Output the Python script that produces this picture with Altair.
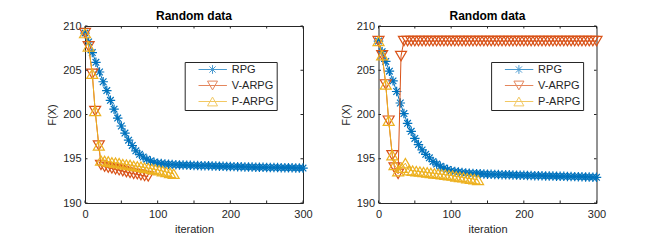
import altair as alt
import pandas as pd

series_names = ["RPG", "V-ARPG", "P-ARPG"]
series_colors = ["#0072BD", "#D95319", "#EDB120"]
x_ticks = [0, 50, 100, 150, 200, 250, 300]
y_ticks = [190, 195, 200, 205, 210]
panel_title = "Random data"

# ---------------- left panel ----------------
left_rpg_x = list(range(0, 301, 5))
left_rpg_y = [209.2, 208.2, 207.0, 205.9, 204.8, 203.7, 202.7, 201.6, 200.6, 199.6,
              198.7, 197.9, 197.1, 196.5, 195.9, 195.5, 195.2, 194.95, 194.75, 194.6,
              194.5, 194.45, 194.4, 194.37, 194.35, 194.33, 194.3, 194.29, 194.28, 194.26,
              194.25, 194.24, 194.22, 194.21, 194.2, 194.18, 194.17, 194.16, 194.14, 194.13,
              194.12, 194.11, 194.1, 194.09, 194.08, 194.07, 194.06, 194.05, 194.04, 194.03,
              194.02, 194.01, 194.0, 194.0, 193.99, 193.98, 193.97, 193.97, 193.96, 193.96,
              193.95]
left_v_x = [0, 5, 10, 14, 19, 22, 27, 32, 37, 42, 47, 52, 57, 62, 67, 72, 77, 82, 87]
left_v_y = [209.2, 207.7, 204.6, 200.4, 196.5, 194.3, 194.1, 194.0, 193.9, 193.8,
            193.7, 193.6, 193.5, 193.4, 193.3, 193.25, 193.15, 193.05, 193.0]
left_p_x = [0, 5, 10, 14, 19, 22, 27, 32, 37, 42, 47, 52, 57, 62, 67, 72, 77, 82, 87,
            92, 97, 102, 107, 112, 117, 122]
left_p_y = [209.2, 207.7, 204.6, 200.4, 196.5, 194.8, 194.75, 194.7, 194.6, 194.55,
            194.5, 194.4, 194.35, 194.3, 194.2, 194.15, 194.1, 194.0, 193.95, 193.85,
            193.8, 193.7, 193.6, 193.5, 193.4, 193.3]

# ---------------- right panel ----------------
right_rpg_x = list(range(0, 301, 5))
right_rpg_y = [208.3, 207.1, 206.0, 204.9, 203.8, 202.6, 201.3, 200.1, 199.0, 198.1,
               197.3, 196.6, 196.0, 195.5, 195.1, 194.7, 194.4, 194.15, 193.95, 193.8,
               193.65, 193.55, 193.5, 193.45, 193.4, 193.37, 193.34, 193.32, 193.3, 193.28,
               193.26, 193.25, 193.23, 193.22, 193.2, 193.19, 193.18, 193.16, 193.15, 193.14,
               193.13, 193.12, 193.1, 193.09, 193.08, 193.07, 193.06, 193.05, 193.04, 193.03,
               193.02, 193.01, 193.0, 192.99, 192.98, 192.97, 192.96, 192.95, 192.94, 192.92,
               192.9]
right_v_x = [0, 5, 10, 14, 19, 22, 27, 31] + list(range(35, 301, 5))
right_v_y = [208.3, 206.7, 203.4, 199.3, 195.4, 194.0, 193.3, 206.6] + [208.3] * 54
right_p_x = [0, 5, 10, 14, 19, 22, 27, 32, 37, 42, 47, 52, 57, 62, 67, 72, 77, 82, 87,
             92, 97, 102, 107, 112, 117, 122, 127, 132, 137]
right_p_y = [208.3, 206.7, 203.4, 199.3, 195.4, 194.3, 193.6, 194.0, 194.5, 193.7,
             193.65, 193.6, 193.55, 193.5, 193.45, 193.4, 193.35, 193.3, 193.25, 193.2,
             193.15, 193.1, 193.0, 192.95, 192.9, 192.8, 192.75, 192.7, 192.6]

W, H = 218, 177
AX = "#262626"
FONT = "Liberation Sans"

marker_paths = {
    "RPG": "M0,-1L0,1M-1,0L1,0M-0.7,-0.7L0.7,0.7M-0.7,0.7L0.7,-0.7",
    "V-ARPG": "M-1,-0.85L1,-0.85L0,0.85Z",
    "P-ARPG": "M-1,0.85L1,0.85L0,-0.85Z",
}
marker_sizes = {"RPG": 90, "V-ARPG": 121, "P-ARPG": 121}
legend_paths = [
    "M1.58,0L8.68,0M5.08,-1.1L5.08,1.1M3.98,0L6.18,0M4.3,-0.78L5.86,0.78M4.3,0.78L5.86,-0.78",
    "M1.58,0L8.68,0M3.83,-1.1L6.33,-1.1L5.08,1.1Z",
    "M1.58,0L8.68,0M3.83,1.1L6.33,1.1L5.08,-1.1Z",
]


def make_df(parts):
    rows = []
    for name, xs, ys in parts:
        for xv, yv in zip(xs, ys):
            rows.append({"series": name, "iter": xv, "F": yv})
    return pd.DataFrame(rows)


def legend_params(lx, ly):
    return alt.Legend(title=None, orient="none", legendX=lx, legendY=ly, padding=2,
                      rowPadding=3, labelOffset=34, symbolSize=64, symbolStrokeWidth=1,
                      labelFontSize=11, labelFont=FONT, labelColor=AX,
                      strokeColor=AX, fillColor="white")


def panel(df, legend_x, legend_y):
    xs = alt.Scale(domain=[0, 300], nice=False, zero=False)
    ys = alt.Scale(domain=[190, 210], nice=False, zero=False)
    xenc = alt.X("iter:Q", scale=xs,
                 axis=alt.Axis(title="iteration", values=x_ticks, grid=False, domain=False,
                               ticks=False, labelPadding=5, titlePadding=4, labelFontSize=11,
                               titleFontSize=11, labelColor=AX, titleColor=AX, labelFont=FONT,
                               titleFont=FONT, titleFontWeight="normal", labelFlush=False))
    yenc = alt.Y("F:Q", scale=ys,
                 axis=alt.Axis(title="F(X)", values=y_ticks, grid=False, domain=False,
                               ticks=False, labelPadding=4, titlePadding=5, labelFontSize=11,
                               titleFontSize=11, labelColor=AX, titleColor=AX, labelFont=FONT,
                               titleFont=FONT, titleFontWeight="normal"))
    base = alt.Chart(df)
    layers = []
    for name, col in zip(series_names, series_colors):
        sub = base.transform_filter(alt.datum.series == name)
        layers.append(sub.mark_line(color=col, strokeWidth=1).encode(x=xenc, y=yenc, order="iter:Q"))
        layers.append(sub.mark_point(shape=marker_paths[name], size=marker_sizes[name],
                                     filled=False, color=col, strokeWidth=1.2, opacity=1)
                      .encode(x=xenc, y=yenc))
    # legend-only layer (no visible marks)
    leg = base.transform_filter(alt.datum.F > 1000).mark_point(filled=False, strokeWidth=1).encode(
        x=xenc, y=yenc,
        color=alt.Color("series:N", scale=alt.Scale(domain=series_names, range=series_colors),
                        legend=legend_params(legend_x, legend_y)),
        shape=alt.Shape("series:N", scale=alt.Scale(domain=series_names, range=legend_paths),
                        legend=legend_params(legend_x, legend_y)),
    )
    layers.append(leg)
    # inward ticks (MATLAB style, on all four sides)
    xt = alt.Chart(pd.DataFrame({"t": x_ticks}))
    yt = alt.Chart(pd.DataFrame({"t": y_ticks}))
    tl = 2.5
    layers.append(xt.mark_rule(color=AX, strokeWidth=1).encode(
        x=alt.X("t:Q", scale=xs), y=alt.value(H), y2=alt.value(H - tl)))
    layers.append(xt.mark_rule(color=AX, strokeWidth=1).encode(
        x=alt.X("t:Q", scale=xs), y=alt.value(0), y2=alt.value(tl)))
    layers.append(yt.mark_rule(color=AX, strokeWidth=1).encode(
        y=alt.Y("t:Q", scale=ys), x=alt.value(0), x2=alt.value(tl)))
    layers.append(yt.mark_rule(color=AX, strokeWidth=1).encode(
        y=alt.Y("t:Q", scale=ys), x=alt.value(W), x2=alt.value(W - tl)))
    return alt.layer(*layers).properties(
        width=W, height=H,
        title=alt.TitleParams(panel_title, fontSize=12, fontWeight="bold", font=FONT,
                              color="black", offset=-3, anchor="middle"))


left_df = make_df([("RPG", left_rpg_x, left_rpg_y), ("V-ARPG", left_v_x, left_v_y),
                   ("P-ARPG", left_p_x, left_p_y)])
right_df = make_df([("RPG", right_rpg_x, right_rpg_y), ("V-ARPG", right_v_x, right_v_y),
                    ("P-ARPG", right_p_x, right_p_y)])

chart = alt.hconcat(panel(left_df, 99.7, 36), panel(right_df, 112.6, 36), spacing=26.5).resolve_scale(
    color="independent", shape="independent", x="independent", y="independent"
).resolve_legend(color="independent", shape="independent").properties(
    padding={"left": 38, "top": 1, "right": 5, "bottom": 5}, background="white"
).configure_view(stroke=AX, strokeWidth=1).configure_axis(labelFont=FONT, titleFont=FONT)

chart.save("out.html", embed_options={"renderer": "svg", "actions": False})
